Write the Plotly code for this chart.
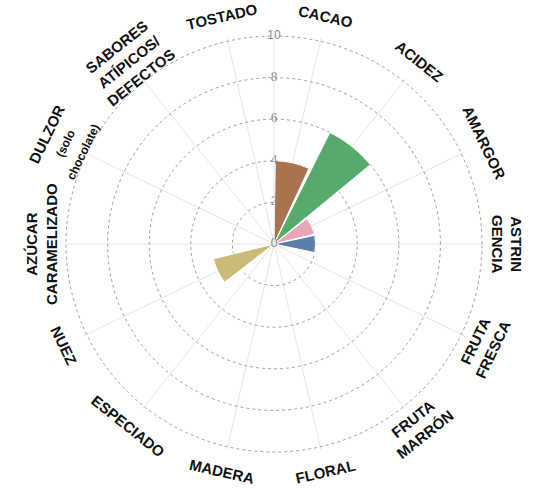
import math
import plotly.graph_objects as go

categories = ["CACAO", "ACIDEZ", "AMARGOR", "ASTRINGENCIA", "FRUTA FRESCA", "FRUTA MARRÓN",
              "FLORAL", "MADERA", "ESPECIADO", "NUEZ", "AZÚCAR CARAMELIZADO",
              "DULZOR (solo chocolate)", "SABORES ATÍPICOS/DEFECTOS", "TOSTADO"]
labels = ["CACAO", "ACIDEZ", "AMARGOR", "ASTRIN<br>GENCIA", "FRUTA<br>FRESCA", "FRUTA<br>MARRÓN",
          "FLORAL", "MADERA", "ESPECIADO", "NUEZ", "AZÚCAR<br>CARAMELIZADO",
          "DULZOR<br><span style='font-size:12px'>(solo<br>chocolate)</span>",
          "SABORES<br>ATÍPICOS/<br>DEFECTOS", "TOSTADO"]
values = [4, 6, 2, 2, 0, 0, 0, 0, 0, 3, 0, 0, 0, 0]
colors = ["#A8734F", "#55AA6C", "#E9A5B6", "#5B7FA6", "#cccccc", "#cccccc",
          "#cccccc", "#cccccc", "#cccccc", "#CBBB78", "#cccccc", "#cccccc", "#cccccc", "#cccccc"]
tick_vals = [0, 2, 4, 6, 8, 10]
tick_text = ["0", "2", "4", "6", "8", "10"]

W, H = 536, 488
RMAX = 10.15
CX, CY, R = 274, 244, 208 * RMAX / 10
n = len(categories)
step = 360 / n
thetas = [(i + 0.5) * step for i in range(n)]

fig = go.Figure()
fig.add_trace(go.Barpolar(
    r=values, theta=thetas, width=[step * 0.93] * n,
    marker=dict(color=colors, line=dict(color="white", width=1)),
    hoverinfo="skip", showlegend=False,
))
fig.add_trace(go.Scatterpolar(
    r=tick_vals, theta=[0] * len(tick_vals), mode="text", text=tick_text,
    textposition="middle center", textfont=dict(color="#8a8a8a", size=12, family="Liberation Sans"),
    hoverinfo="skip", showlegend=False,
))

annotations = []
LR = 233
for lab, th in zip(labels, thetas):
    rad = math.radians(th)
    px = CX + LR * math.sin(rad)
    py = CY - LR * math.cos(rad)
    if th <= 90.01:
        ang = th
    elif th < 269.99:
        ang = th - 180
    else:
        ang = th - 360
    annotations.append(dict(
        x=px / W, y=1 - py / H, xref="paper", yref="paper", text=lab, showarrow=False,
        textangle=ang, xanchor="center", yanchor="middle",
        font=dict(family="Liberation Sans", size=15, color="#111111", weight="bold"),
    ))

fig.update_layout(
    width=W, height=H, margin=dict(l=0, r=0, t=0, b=0),
    paper_bgcolor="white", plot_bgcolor="white",
    annotations=annotations,
    polar=dict(
        domain=dict(x=[(CX - R) / W, (CX + R) / W], y=[1 - (CY + R) / H, 1 - (CY - R) / H]),
        bgcolor="white",
        radialaxis=dict(range=[0, RMAX], tickvals=tick_vals, showticklabels=False, ticks="",
                        gridcolor="#a0a0a0", griddash="3px,3px", gridwidth=1.2,
                        showline=True, linecolor="#e6e6e6", linewidth=1, angle=90),
        angularaxis=dict(rotation=90, direction="clockwise", tickvals=thetas,
                         showticklabels=False, ticks="", gridcolor="#e6e6e6", gridwidth=1,
                         showline=False),
    ),
)
fig.write_html("out.html", config={"displayModeBar": False},
               post_script="document.body.style.margin='0';document.body.style.overflow='hidden';")
